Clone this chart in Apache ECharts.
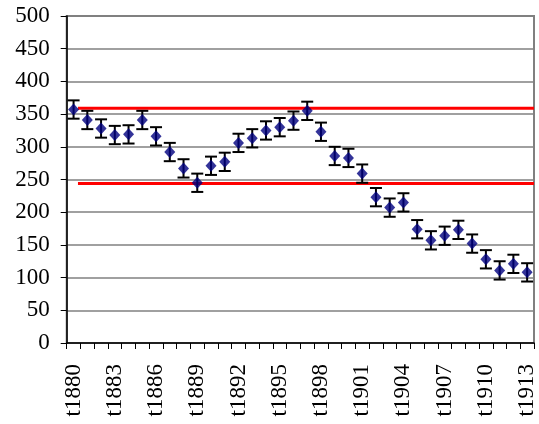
<!DOCTYPE html>
<html>
<head>
<meta charset="utf-8">
<script src="https://cdn.jsdelivr.net/npm/echarts@6/dist/echarts.min.js"></script>
<style>
html,body{margin:0;padding:0;background:#fff;}
#chart{width:539px;height:424px;}
</style>
</head>
<body>
<div id="chart"></div>
<script>
var categories = ['t1880','t1881','t1882','t1883','t1884','t1885','t1886','t1887','t1888','t1889',
  't1890','t1891','t1892','t1893','t1894','t1895','t1896','t1897','t1898','t1899',
  't1900','t1901','t1902','t1903','t1904','t1905','t1906','t1907','t1908','t1909',
  't1910','t1911','t1912','t1913'];
var values = [357,341,328,318,319,341,316,292,267,245,
  271,277,306,313,325,330,340,355,323,286,
  283,259,223,207,215,174,157,164,173,152,
  128,111,121,108];
var errors = [14,14,14,14,14,14,14,14,14,14,
  14,14,14,14,14,14,14,14,14,14,
  14,14,14,14,14,14,14,14,14,14,
  14,14,14,14];
var yTicks = [0,50,100,150,200,250,300,350,400,450,500];
var refUpper = 359;
var refLower = 244;
var refStart = 0.82;
var refEnd = 34;

var chart = echarts.init(document.getElementById('chart'), null, {renderer:'canvas'});
var font = 'Liberation Serif';
var option = {
  animation:false,
  grid:{left:66.7, right:5, top:16, bottom:81, show:true, borderColor:'#808080', borderWidth:2},
  xAxis:[{
    type:'category', data:categories, boundaryGap:true,
    axisLine:{show:true, lineStyle:{color:'#000', width:1.5}},
    axisTick:{show:true, interval:0, length:6, lineStyle:{color:'#000'}},
    axisLabel:{interval:2, rotate:90, margin:21, color:'#000', fontFamily:font, fontSize:23},
    splitLine:{show:false}
  },{
    type:'value', min:0, max:34, show:false
  }],
  yAxis:{
    type:'value', min:yTicks[0], max:yTicks[yTicks.length-1], interval:50,
    axisLine:{show:true, lineStyle:{color:'#000', width:1.5}},
    axisTick:{show:true, length:6, inside:false, lineStyle:{color:'#000'}},
    axisLabel:{margin:17, color:'#000', fontFamily:font, fontSize:23},
    splitLine:{show:true, lineStyle:{color:'#808080', width:1.5}}
  },
  series:[
    {
      type:'line', xAxisIndex:1, data:[[refStart,refUpper],[refEnd,refUpper]],
      symbol:'none', lineStyle:{color:'#ff0000', width:3}, z:2
    },
    {
      type:'line', xAxisIndex:1, data:[[refStart,refLower],[refEnd,refLower]],
      symbol:'none', lineStyle:{color:'#ff0000', width:3}, z:2
    },
    {
      type:'custom', z:3,
      data: values.map(function(v,i){return [i, v - errors[i], v + errors[i]];}),
      renderItem:function(params, api){
        var i = api.value(0);
        var lo = api.coord([i, api.value(1)]);
        var hi = api.coord([i, api.value(2)]);
        var hw = 6;
        var st = {stroke:'#000', lineWidth:2};
        return {type:'group', children:[
          {type:'line', shape:{x1:lo[0],y1:lo[1],x2:hi[0],y2:hi[1]}, style:st},
          {type:'line', shape:{x1:lo[0]-hw,y1:lo[1],x2:lo[0]+hw,y2:lo[1]}, style:st},
          {type:'line', shape:{x1:hi[0]-hw,y1:hi[1],x2:hi[0]+hw,y2:hi[1]}, style:st}
        ]};
      }
    },
    {
      type:'scatter', data:values, symbol:'diamond', symbolSize:[11,12],
      itemStyle:{color:'#000080'}, z:4
    }
  ]
};
chart.setOption(option);
</script>
</body>
</html>
